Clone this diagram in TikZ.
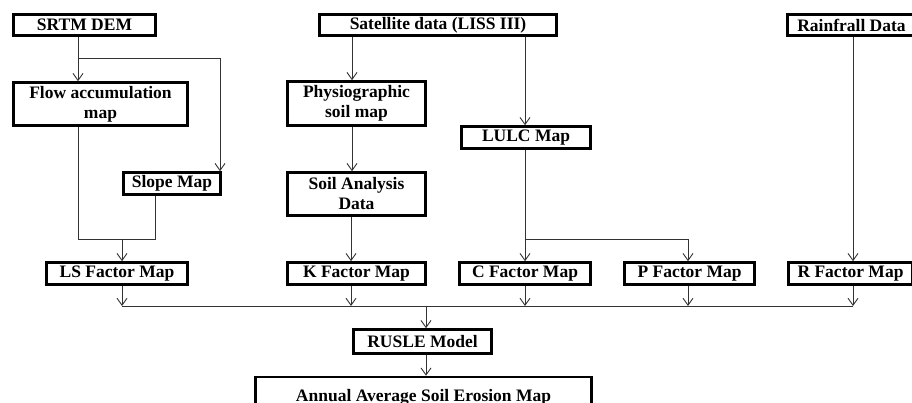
\documentclass[tikz,border=0pt]{standalone}
\usepackage{fontspec}
\setmainfont{Liberation Serif}
\usetikzlibrary{arrows.meta,calc}
\begin{document}
\begin{tikzpicture}[x=1pt,y=-1pt,
  box/.style={draw=black, line width=2.6pt, fill=white, inner sep=0pt,
    align=center, font=\fontsize{17.5}{20}\selectfont\bfseries},
  link/.style={draw=black!80, line width=0.9pt},
  arr/.style={link, -{Straight Barb[length=7pt,width=10pt,line width=0.9pt]}}
]
\useasboundingbox (0,0) rectangle (912,403);
\begin{scope}
\clip (0,0) rectangle (912,403);

% input sources
\node[box, minimum width=142, minimum height=21] (srtm) at (84.5,25) {SRTM DEM};
\node[box, minimum width=237, minimum height=21] (sat) at (438,25) {Satellite data (LISS III)};
\node[box, minimum width=128, minimum height=21] (rain) at (851.5,25) {Rainfrall Data};

% intermediate products
\node[box, minimum width=174, minimum height=43] (flow) at (100.5,104) {Flow accumulation\\map};
\node[box, minimum width=97, minimum height=22] (slope) at (172,183.5) {Slope Map};
\node[box, minimum width=138, minimum height=44] (phys) at (356.5,103.5) {Physiographic\\soil map};
\node[box, minimum width=138, minimum height=43] (soil) at (356.5,194) {Soil Analysis\\Data};
\node[box, minimum width=129, minimum height=22] (lulc) at (526,137.5) {LULC Map};

% factor maps
\node[box, minimum width=141, minimum height=22] (ls) at (117,273.5) {LS Factor Map};
\node[box, minimum width=138, minimum height=22] (kf) at (356.5,273.5) {K Factor Map};
\node[box, minimum width=131, minimum height=22] (cf) at (525,273.5) {C Factor Map};
\node[box, minimum width=130, minimum height=22] (pf) at (689.5,273.5) {P Factor Map};
\node[box, minimum width=124, minimum height=22] (rf) at (850.5,273.5) {R Factor Map};

% model and result
\node[box, minimum width=138, minimum height=24] (rusle) at (422.5,341.5) {RUSLE Model};
\node[box, minimum width=336, minimum height=52, text depth=0pt] (annual) at (423.5,403) {Annual Average Soil Erosion Map\\[-4pt]\phantom{x}};

% column positions of the connectors
\coordinate (xa) at (78,0);
\coordinate (xb) at (220,0);
\coordinate (xc) at (155,0);
\coordinate (xd) at (122,0);
\coordinate (xe) at (352,0);
\coordinate (xk) at (351,0);
\coordinate (xf) at (525,0);
\coordinate (xg) at (688,0);
\coordinate (xh) at (853,0);
\coordinate (xi) at (426,0);
\coordinate (ya) at (0,58);
\coordinate (yb) at (0,239);
\coordinate (bus) at (0,306);

% SRTM DEM branches
\draw[arr] (xa |- srtm.south) -- (xa |- flow.north);
\draw[arr] (xa |- ya) -- (xb |- ya) -- (xb |- slope.north);
% flow accumulation and slope join into LS factor
\draw[link] (xa |- flow.south) -- (xa |- yb) -- (xc |- yb) -- (xc |- slope.south);
\draw[arr] (xd |- yb) -- (xd |- ls.north);

% satellite data branches
\draw[arr] (xe |- sat.south) -- (xe |- phys.north);
\draw[arr] (xf |- sat.south) -- (xf |- lulc.north);
\draw[arr] (xe |- phys.south) -- (xe |- soil.north);
\draw[arr] (xk |- soil.south) -- (xk |- kf.north);

% land use to C and P factors
\draw[arr] (xf |- lulc.south) -- (xf |- cf.north);
\draw[arr] (xf |- yb) -- (xg |- yb) -- (xg |- pf.north);

% rainfall to R factor
\draw[arr] (xh |- rain.south) -- (xh |- rf.north);

% factor maps feed the common line
\draw[link] (xd |- bus) -- (xh |- bus);
\draw[arr] (xd |- ls.south) -- (xd |- bus);
\draw[arr] (xk |- kf.south) -- (xk |- bus);
\draw[arr] (xf |- cf.south) -- (xf |- bus);
\draw[arr] (xg |- pf.south) -- (xg |- bus);
\draw[arr] (xh |- rf.south) -- (xh |- bus);

% model chain
\draw[arr] (xi |- bus) -- (xi |- rusle.north);
\draw[arr] (xi |- rusle.south) -- (xi |- annual.north);
\end{scope}
\end{tikzpicture}
\end{document}
